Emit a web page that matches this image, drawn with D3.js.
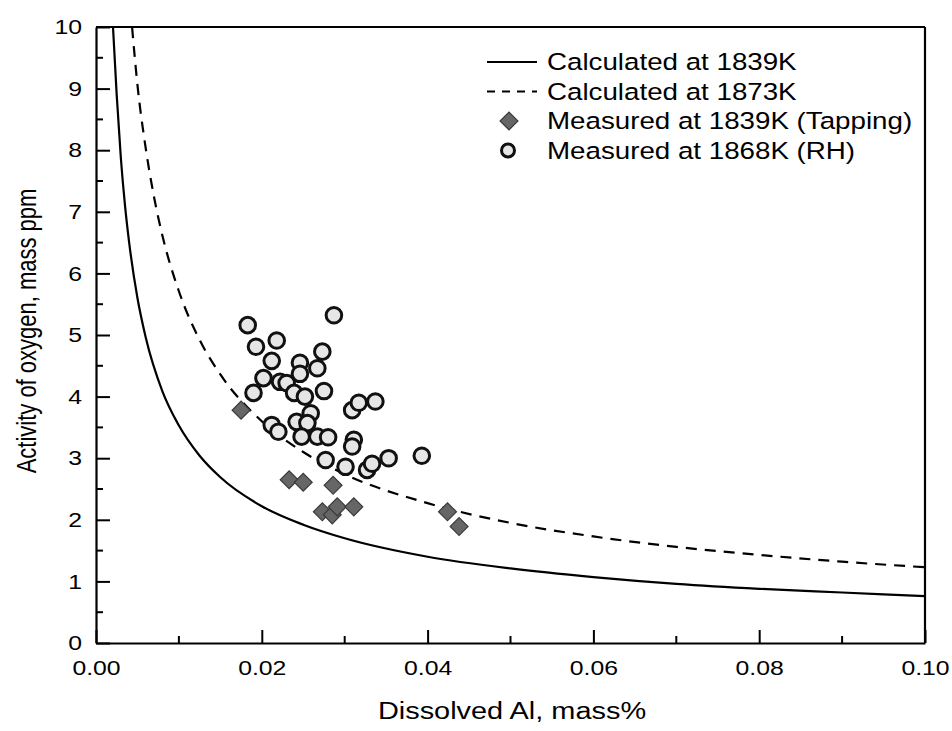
<!DOCTYPE html>
<html>
<head>
<meta charset="utf-8">
<script src="https://cdn.jsdelivr.net/npm/d3@7"></script>
<style>
  body { margin: 0; background: #fff; }
  text { font-family: "Liberation Sans", Arial, sans-serif; fill: #000; }
</style>
</head>
<body>
<div id="chart"></div>
<script>
// calculated curves
const calc1839X = [0.00205, 0.0025, 0.003, 0.0035, 0.004, 0.005, 0.006, 0.008, 0.01, 0.0125, 0.015, 0.02, 0.025, 0.03, 0.04, 0.05, 0.06, 0.07, 0.08, 0.09, 0.10];
const calc1839Y = [10.0, 8.89, 7.87, 7.10, 6.50, 5.60, 4.96, 4.09, 3.53, 3.04, 2.69, 2.22, 1.92, 1.70, 1.40, 1.21, 1.07, 0.96, 0.88, 0.82, 0.76];

const calc1873X = [0.00435, 0.005, 0.006, 0.007, 0.008, 0.01, 0.0125, 0.015, 0.02, 0.025, 0.03, 0.04, 0.05, 0.06, 0.07, 0.08, 0.09, 0.10];
const calc1873Y = [10.0, 9.06, 8.03, 7.24, 6.62, 5.71, 4.92, 4.36, 3.60, 3.10, 2.74, 2.27, 1.95, 1.73, 1.56, 1.43, 1.32, 1.23];

// measured at 1839K (tapping)
const tapX = [0.0175, 0.0233, 0.0250, 0.0286, 0.0273, 0.0285, 0.0291, 0.0311, 0.0424, 0.0438];
const tapY = [3.78, 2.65, 2.61, 2.56, 2.13, 2.08, 2.21, 2.21, 2.13, 1.89];

// measured at 1868K (RH)
const rhX = [0.0183, 0.0287, 0.0193, 0.0218, 0.0212, 0.0273, 0.0246, 0.0267, 0.0202, 0.0222,
             0.0230, 0.0190, 0.0239, 0.0252, 0.0275, 0.0246, 0.0259, 0.0309, 0.0317, 0.0337,
             0.0212, 0.0220, 0.0242, 0.0255, 0.0248, 0.0267, 0.0280, 0.0311, 0.0309, 0.0277,
             0.0301, 0.0327, 0.0333, 0.0353, 0.0393];
const rhY = [5.16, 5.32, 4.81, 4.91, 4.58, 4.73, 4.55, 4.46, 4.30, 4.24,
             4.22, 4.06, 4.06, 4.00, 4.09, 4.37, 3.73, 3.78, 3.90, 3.92,
             3.54, 3.43, 3.59, 3.57, 3.35, 3.35, 3.34, 3.30, 3.19, 2.97,
             2.86, 2.81, 2.91, 3.00, 3.04];

const xTicks = [0, 0.02, 0.04, 0.06, 0.08, 0.10];
const yTicks = [0, 1, 2, 3, 4, 5, 6, 7, 8, 9, 10];

const legendItems = [
  {label: "Calculated at 1839K", kind: "solid"},
  {label: "Calculated at 1873K", kind: "dashed"},
  {label: "Measured at 1839K (Tapping)", kind: "diamond"},
  {label: "Measured at 1868K (RH)", kind: "circle"}
];

const W = 952, H = 731;
const margin = {top: 27, right: 27, bottom: 88, left: 96};
const width = W - margin.left - margin.right;
const height = H - margin.top - margin.bottom;
const stretch = 1.18;   // the original's lettering is wide

const svg = d3.select("#chart").append("svg")
    .attr("width", W)
    .attr("height", H);

const g = svg.append("g")
    .attr("transform", `translate(${margin.left},${margin.top})`);

const x = d3.scaleLinear().domain([0, 0.1]).range([0, width]);
const y = d3.scaleLinear().domain([0, 10]).range([height, 0]);

// clip so curves stop at the frame
g.append("clipPath").attr("id", "clip")
  .append("rect").attr("width", width).attr("height", height);

const line = d3.line()
    .x(d => x(d[0]))
    .y(d => y(d[1]))
    .curve(d3.curveMonotoneX);

const plot = g.append("g").attr("clip-path", "url(#clip)");

plot.append("path")
    .datum(calc1839X.map((v, i) => [v, calc1839Y[i]]))
    .attr("d", line)
    .attr("fill", "none")
    .attr("stroke", "#000")
    .attr("stroke-width", 2.2);

plot.append("path")
    .datum(calc1873X.map((v, i) => [v, calc1873Y[i]]))
    .attr("d", line)
    .attr("fill", "none")
    .attr("stroke", "#000")
    .attr("stroke-width", 2.2)
    .attr("stroke-dasharray", "11,8");

const diamond = d3.symbol().type(d3.symbolSquare).size(160);

g.selectAll(".tap")
  .data(tapX.map((v, i) => [v, tapY[i]]))
  .enter()
  .append("path")
  .attr("class", "tap")
  .attr("d", diamond)
  .attr("transform", d => `translate(${x(d[0])},${y(d[1])}) rotate(45)`)
  .attr("fill", "#666")
  .attr("stroke", "#3a3a3a")
  .attr("stroke-width", 1.2);

g.selectAll(".rh")
  .data(rhX.map((v, i) => [v, rhY[i]]))
  .enter()
  .append("circle")
  .attr("class", "rh")
  .attr("cx", d => x(d[0]))
  .attr("cy", d => y(d[1]))
  .attr("r", 7.8)
  .attr("fill", "#e6e6e6")
  .attr("stroke", "#111")
  .attr("stroke-width", 3);

// axes, ticks pointing inward
const xAxis = g.append("g")
    .attr("transform", `translate(0,${height})`)
    .call(d3.axisBottom(x).tickValues(xTicks).tickSizeInner(-13).tickSizeOuter(0)
      .tickPadding(17).tickFormat(d3.format(".2f")));

xAxis.append("g")
    .selectAll("line")
    .data(d3.range(0.01, 0.1, 0.02))
    .enter()
    .append("line")
    .attr("x1", d => x(d)).attr("x2", d => x(d))
    .attr("y1", 0).attr("y2", -7)
    .attr("stroke", "#000").attr("stroke-width", 2);

const yAxis = g.append("g")
    .call(d3.axisLeft(y).tickValues(yTicks).tickSizeInner(-14).tickSizeOuter(0));

yAxis.append("g")
    .selectAll("line")
    .data(d3.range(0.5, 10, 1))
    .enter()
    .append("line")
    .attr("x1", 0).attr("x2", 7)
    .attr("y1", d => y(d)).attr("y2", d => y(d))
    .attr("stroke", "#000").attr("stroke-width", 2);

[xAxis, yAxis].forEach(a => {
  a.selectAll(".domain").attr("stroke", "#000").attr("stroke-width", 2.2);
  a.selectAll(".tick line").attr("stroke", "#000").attr("stroke-width", 2);
  a.selectAll(".tick text")
    .style("font-size", "21px")
    .attr("fill", "#000")
    .attr("transform", `scale(${stretch},1)`);
});
yAxis.selectAll(".tick text").attr("x", -14 / stretch);

// top and right frame
g.append("line").attr("x1", 0).attr("x2", width).attr("y1", 0).attr("y2", 0)
  .attr("stroke", "#000").attr("stroke-width", 2.2);
g.append("line").attr("x1", width).attr("x2", width).attr("y1", 0).attr("y2", height)
  .attr("stroke", "#000").attr("stroke-width", 2.2);

// axis titles
svg.append("text")
    .attr("transform", `translate(512,719) scale(${stretch},1)`)
    .attr("text-anchor", "middle")
    .style("font-size", "24.5px")
    .text("Dissolved Al, mass%");

svg.append("text")
    .attr("transform", "translate(36,331) rotate(-90) scale(1,1.25)")
    .attr("text-anchor", "middle")
    .style("font-size", "22px")
    .text("Activity of oxygen, mass ppm");

// legend
const legend = svg.append("g").attr("transform", "translate(487,62)");
const rowH = 29.5;

legendItems.forEach((item, i) => {
  const row = legend.append("g").attr("transform", `translate(0,${i * rowH})`);
  if (item.kind === "solid" || item.kind === "dashed") {
    row.append("line")
      .attr("x1", 0).attr("x2", 50).attr("y1", 0).attr("y2", 0)
      .attr("stroke", "#000").attr("stroke-width", 2)
      .attr("stroke-dasharray", item.kind === "dashed" ? "8,7" : null);
  } else if (item.kind === "diamond") {
    row.append("path")
      .attr("d", diamond)
      .attr("transform", "translate(22,0) rotate(45)")
      .attr("fill", "#666").attr("stroke", "#3a3a3a").attr("stroke-width", 1.2);
  } else {
    row.append("circle")
      .attr("cx", 21).attr("cy", 0).attr("r", 6.5)
      .attr("fill", "#e6e6e6").attr("stroke", "#111").attr("stroke-width", 3);
  }
  row.append("text")
    .attr("transform", `translate(60,0) scale(${stretch},1)`)
    .attr("dy", "0.35em")
    .style("font-size", "23.5px")
    .text(item.label);
});
</script>
</body>
</html>
